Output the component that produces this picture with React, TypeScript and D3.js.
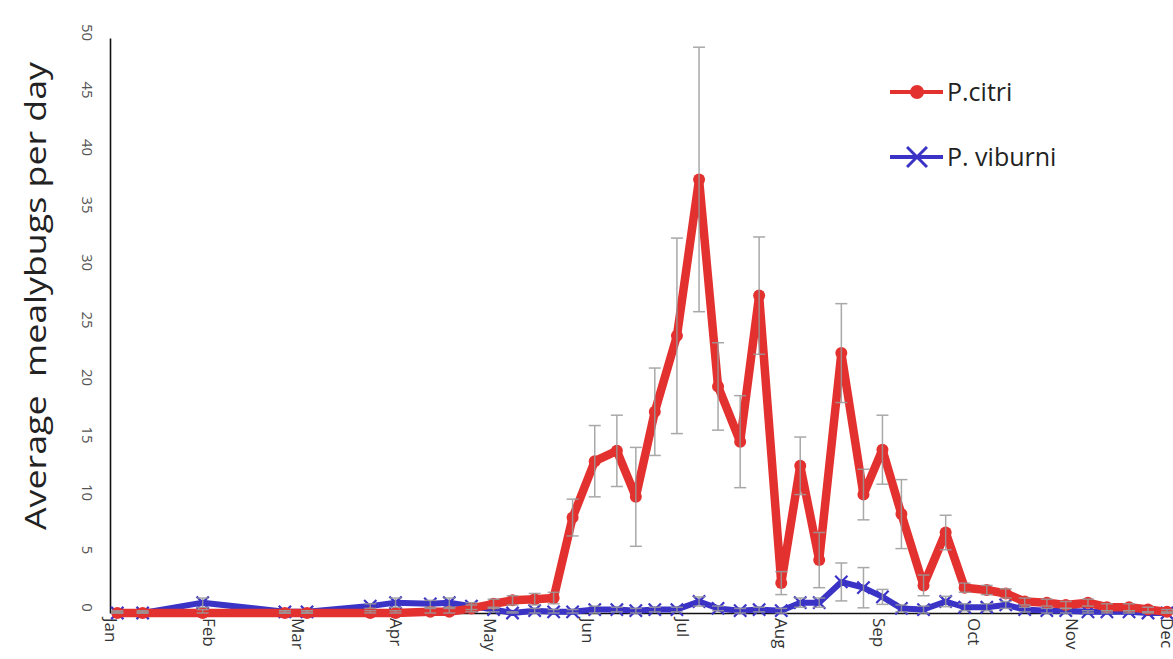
import React, { useEffect, useRef } from "react";
import * as d3 from "d3";

// sampling dates (one trap reading per ~week)
const sampleDates = [
  "2013-01-03", "2013-01-11", "2013-01-30", "2013-02-25", "2013-03-04",
  "2013-03-24", "2013-04-01", "2013-04-12", "2013-04-18", "2013-04-25",
  "2013-05-02", "2013-05-08", "2013-05-15", "2013-05-21", "2013-05-27",
  "2013-06-03", "2013-06-10", "2013-06-16", "2013-06-22", "2013-06-29",
  "2013-07-06", "2013-07-12", "2013-07-19", "2013-07-25", "2013-08-01",
  "2013-08-07", "2013-08-13", "2013-08-20", "2013-08-27", "2013-09-02",
  "2013-09-08", "2013-09-15", "2013-09-22", "2013-09-28", "2013-10-05",
  "2013-10-11", "2013-10-17", "2013-10-24", "2013-10-30", "2013-11-06",
  "2013-11-12", "2013-11-19", "2013-11-25", "2013-12-01",
];

const citriMean = [
  0, 0, 0, 0, 0, 0, 0, 0.1, 0.1, 0.4,
  0.8, 1.1, 1.2, 1.3, 8.3, 13.2, 14.1, 10.1, 17.5, 24.1,
  37.7, 19.7, 14.9, 27.6, 2.6, 12.8, 4.6, 22.6, 10.3, 14.2,
  8.6, 2.4, 7.0, 2.2, 2.0, 1.7, 1.0, 0.9, 0.7, 0.9,
  0.5, 0.5, 0.3, 0.1,
];
const citriErr = [
  0.2, 0.2, 0.3, 0.2, 0.2, 0.2, 0.2, 0.3, 0.3, 0.3,
  0.4, 0.4, 0.5, 0.5, 1.6, 3.1, 3.1, 4.3, 3.8, 8.5,
  11.5, 3.8, 4.0, 5.1, 1.0, 2.5, 2.4, 4.3, 2.2, 3.0,
  3.0, 0.9, 1.5, 0.4, 0.4, 0.4, 0.3, 0.3, 0.3, 0.3,
  0.3, 0.3, 0.2, 0.2,
];

const viburniMean = [
  0, 0, 0.9, 0.1, 0.1, 0.6, 0.9, 0.8, 0.9, 0.6,
  0.3, 0.0, 0.2, 0.1, 0.1, 0.3, 0.3, 0.2, 0.3, 0.3,
  1.0, 0.4, 0.2, 0.3, 0.2, 0.9, 0.9, 2.7, 2.2, 1.4,
  0.4, 0.3, 1.0, 0.5, 0.5, 0.7, 0.3, 0.2, 0.2, 0.1,
  0.1, 0.1, 0, 0,
];
const viburniErr = [
  0.1, 0.1, 0.4, 0.1, 0.1, 0.2, 0.4, 0.3, 0.4, 0.3,
  0.2, 0.1, 0.2, 0.2, 0.2, 0.3, 0.2, 0.2, 0.2, 0.2,
  0.4, 0.2, 0.2, 0.2, 0.2, 0.4, 0.4, 1.65, 1.75, 0.65,
  0.3, 0.3, 0.45, 0.3, 0.3, 0.3, 0.2, 0.2, 0.2, 0.1,
  0.1, 0.1, 0.1, 0.1,
];

const yTicks = [0, 5, 10, 15, 20, 25, 30, 35, 40, 45, 50];
const seriesNames = ["P.citri", "P. viburni"];

const RED = "#e3312f";
const BLUE = "#3a33c6";
const ERR = "#9a9a9a";

const App = () => {
  const svgRef = useRef<SVGSVGElement>(null);

  useEffect(() => {
    if (!svgRef.current) return;
    const svg = d3.select(svgRef.current);
    svg.selectAll("*").remove();

    const parse = d3.timeParse("%Y-%m-%d");
    const dates = sampleDates.map((d) => parse(d) as Date);

    const x = d3
      .scaleTime()
      .domain([new Date(2013, 0, 1), new Date(2014, 0, 1)])
      .range([111, 1265]);
    const y = d3.scaleLinear().domain([0, 50]).range([613, 38]);

    // axes
    const yAxis = svg
      .append("g")
      .attr("transform", "translate(110,0)")
      .call(d3.axisLeft(y).tickValues(yTicks).tickSize(0).tickSizeOuter(0));
    yAxis.select(".domain").attr("stroke", "#111").attr("stroke-width", 1.6);
    yAxis
      .selectAll("text")
      .attr("x", null)
      .attr("dy", null)
      .attr("transform", "translate(-22,-6) rotate(90)")
      .attr("text-anchor", "middle")
      .attr("dominant-baseline", "central")
      .attr("font-family", "Open Sans, sans-serif")
      .attr("font-size", 15)
      .attr("fill", "#555");

    const xAxis = svg
      .append("g")
      .attr("transform", "translate(0,613)")
      .call(
        d3
          .axisBottom(x)
          .ticks(d3.timeMonth.every(1))
          .tickFormat(d3.timeFormat("%b") as any)
          .tickSize(0)
          .tickSizeOuter(0)
      );
    xAxis.select(".domain").attr("stroke", "#111").attr("stroke-width", 1.6);
    xAxis
      .selectAll("text")
      .attr("y", null)
      .attr("dy", null)
      .attr("transform", "translate(0,5) rotate(90)")
      .attr("text-anchor", "start")
      .attr("dominant-baseline", "central")
      .attr("font-family", "Open Sans, sans-serif")
      .attr("font-size", 17)
      .attr("fill", "#333");

    // y title
    svg
      .append("text")
      .attr("transform", "translate(46,296) rotate(-90)")
      .attr("text-anchor", "middle")
      .attr("font-family", "Open Sans, sans-serif")
      .attr("font-size", 29)
      .attr("fill", "#222")
      .attr("textLength", 468)
      .attr("lengthAdjust", "spacingAndGlyphs")
      .style("white-space", "pre")
      .text("Average  mealybugs per day");

    const line = d3
      .line<number>()
      .x((_, i) => x(dates[i]))
      .y((d) => y(d));

    const xMark = d3.symbol().type((d3 as any).symbolX || (d3 as any).symbolTimes);

    // P. viburni
    svg
      .append("path")
      .datum(viburniMean)
      .attr("fill", "none")
      .attr("stroke", BLUE)
      .attr("stroke-width", 6)
      .attr("stroke-linejoin", "round")
      .attr("d", line);
    svg
      .append("g")
      .selectAll("path")
      .data(viburniMean)
      .join("path")
      .attr("transform", (d, i) => `translate(${x(dates[i])},${y(d)})`)
      .attr("d", xMark.size(100) as any)
      .attr("fill", "none")
      .attr("stroke", BLUE)
      .attr("stroke-width", 2.2);

    // P. citri
    svg
      .append("path")
      .datum(citriMean)
      .attr("fill", "none")
      .attr("stroke", RED)
      .attr("stroke-width", 8.5)
      .attr("stroke-linejoin", "round")
      .attr("d", line);
    svg
      .append("g")
      .selectAll("circle")
      .data(citriMean)
      .join("circle")
      .attr("cx", (_, i) => x(dates[i]))
      .attr("cy", (d) => y(d))
      .attr("r", 6)
      .attr("fill", RED);

    // error bars on top
    const drawErr = (means: number[], errs: number[]) => {
      const g = svg.append("g").attr("stroke", ERR).attr("stroke-width", 1.5).attr("opacity", 0.85);
      means.forEach((m, i) => {
        const cx = x(dates[i]);
        const lo = y(Math.max(0, m - errs[i]));
        const hi = y(m + errs[i]);
        g.append("line").attr("x1", cx).attr("x2", cx).attr("y1", lo).attr("y2", hi);
        g.append("line").attr("x1", cx - 6).attr("x2", cx + 6).attr("y1", lo).attr("y2", lo);
        g.append("line").attr("x1", cx - 6).attr("x2", cx + 6).attr("y1", hi).attr("y2", hi);
      });
    };
    drawErr(viburniMean, viburniErr);
    drawErr(citriMean, citriErr);

    // legend
    const leg = svg.append("g");
    leg.append("line").attr("x1", 890).attr("x2", 943).attr("y1", 92).attr("y2", 92)
      .attr("stroke", RED).attr("stroke-width", 4);
    leg.append("circle").attr("cx", 917).attr("cy", 92).attr("r", 7).attr("fill", RED);
    leg.append("line").attr("x1", 890).attr("x2", 943).attr("y1", 157).attr("y2", 157)
      .attr("stroke", BLUE).attr("stroke-width", 4);
    leg.append("path").attr("transform", "translate(917,157)")
      .attr("d", xMark.size(260)() as string)
      .attr("fill", "none").attr("stroke", BLUE).attr("stroke-width", 3);
    leg.selectAll("text.lg")
      .data(seriesNames)
      .join("text")
      .attr("class", "lg")
      .attr("x", 947)
      .attr("y", (_, i) => (i === 0 ? 101 : 166))
      .attr("font-family", "Open Sans, sans-serif")
      .attr("font-size", 25)
      .attr("fill", "#222")
      .text((d) => d);
  }, []);

  return (
    <svg
      ref={svgRef}
      width={1173}
      height={659}
      style={{ position: "absolute", left: 0, top: 0, background: "#fff" }}
    />
  );
};

export default App;
